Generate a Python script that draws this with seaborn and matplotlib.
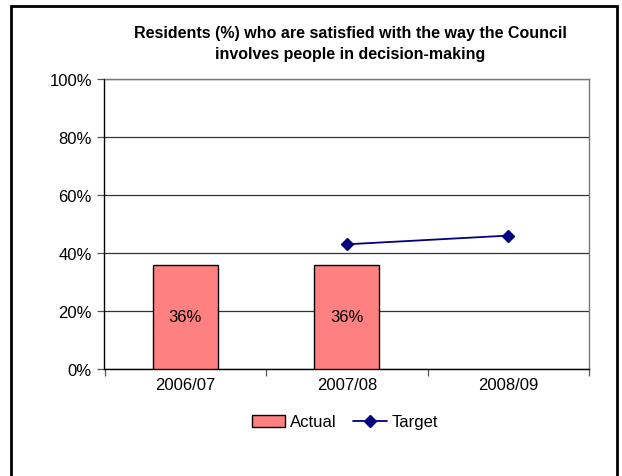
import matplotlib
matplotlib.use("Agg")
import matplotlib.pyplot as plt
import seaborn as sns
import numpy as np
import pandas as pd
from matplotlib.patches import Rectangle, Patch
from matplotlib.lines import Line2D
from matplotlib.ticker import FixedLocator, PercentFormatter

years = ["2006/07", "2007/08", "2008/09"]
actual = [36, 36, np.nan]
target = [np.nan, 43, 46]
bar_labels = ["36%", "36%", ""]
title = "Residents (%) who are satisfied with the way the Council\ninvolves people in decision-making"

sns.set_style("white")
plt.rcParams['font.family'] = ['Liberation Sans Narrow', 'Liberation Sans', 'DejaVu Sans']
plt.rcParams['text.color'] = 'black'
plt.rcParams['xtick.color'] = 'black'
plt.rcParams['ytick.color'] = 'black'
plt.rcParams['axes.labelcolor'] = 'black'

df = pd.DataFrame({"year": years, "actual": actual, "target": target})

fig = plt.figure(figsize=(6.22, 4.77), dpi=100)
ax = fig.add_axes([104.5/622, 1-370/477, (589-104.5)/622, 290/477])

sns.barplot(data=df, x="year", y="actual", order=years, color="#FF8080",
            edgecolor="black", linewidth=1.0, width=0.4, saturation=1, ax=ax, zorder=3)
sns.pointplot(data=df, x="year", y="target", order=years, color="#000080",
              markers="D", linewidth=1.3, markersize=6, errorbar=None, ax=ax, zorder=4)

for i, lab in enumerate(bar_labels):
    if lab:
        ax.text(i, actual[i] / 2, lab, ha="center", va="center", fontsize=12, zorder=5)

ax.set_xlim(-0.5, 2.5)
ax.set_ylim(0, 100)
ax.yaxis.set_major_locator(FixedLocator([0, 20, 40, 60, 80, 100]))
ax.yaxis.set_major_formatter(PercentFormatter(decimals=0))
ax.grid(axis="y", color="#333333", linewidth=0.9, zorder=0)
ax.set_axisbelow(True)
ax.set_xlabel("")
ax.set_ylabel("")
ax.tick_params(axis="y", which="major", length=5, width=0.9, color="#555555", labelsize=12, pad=4, left=True)
ax.tick_params(axis="x", which="major", length=0, labelsize=12, pad=6)
ax.set_xticks([-0.5, 0.5, 1.5, 2.5], minor=True)
ax.tick_params(axis="x", which="minor", length=5, width=0.9, color="#555555", bottom=True)
for s in ["left", "bottom"]:
    ax.spines[s].set_color("black")
    ax.spines[s].set_linewidth(1.0)
for s in ["top", "right"]:
    ax.spines[s].set_color("#777777")
    ax.spines[s].set_linewidth(1.0)

fig.text(350/622, 1-44/477, title, ha="center", va="center", fontsize=11.5,
         fontweight="bold", linespacing=1.5, color="black")

handles = [Patch(facecolor="#FF8080", edgecolor="black", linewidth=1.0),
           Line2D([0], [0], color="#000080", marker="D", markersize=6, linewidth=1.3)]
fig.legend(handles, ["Actual", "Target"], loc="center", bbox_to_anchor=(345/622, 1-423/477),
           ncol=2, frameon=False, fontsize=12, handlelength=2.0, handletextpad=0.3,
           columnspacing=1.0)

border = Rectangle((10.5/622, -0.05), (617-10.5)/622, 1.05-7/477, transform=fig.transFigure,
                   fill=False, edgecolor="black", linewidth=2.0)
fig.add_artist(border)

fig.savefig("out.png", dpi=100)
